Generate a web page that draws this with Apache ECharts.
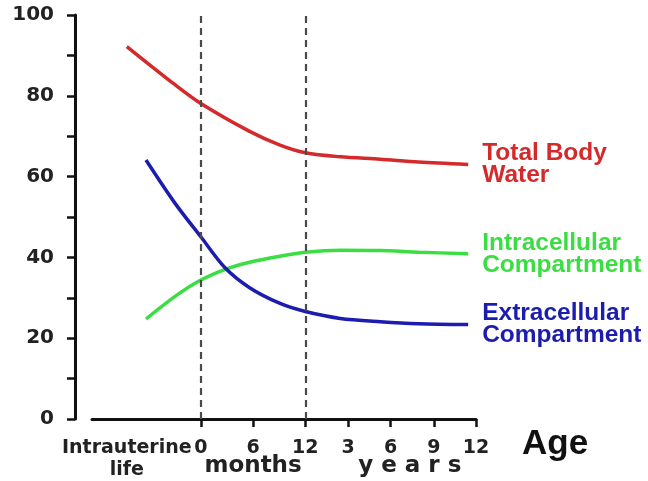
<html>
<head>
    <meta http-equiv="Content-Type" content="text/html; charset=utf-8" />
    <script type="text/javascript" src="https://cdn.jsdelivr.net/npm/echarts@6.0.0/dist/echarts.min.js"></script>
    <style>
        body { margin: 0; background: #fff; }
    </style>
</head>
<body>
<div id="main" style="width: 648px;height:481px;"></div>
<script type="text/javascript">
    // x: 0..12 = months, after 12 the years (3,6,9,12) squeezed in
    var tickPos = [0, 6, 12, 16.9, 21.8, 26.75, 31.6];
    var tickText = ['0', '6', '12', '3', '6', '9', '12'];
    var uterPos = -8.5;
    var uterText = 'Intrauterine\nlife';
    var unitPos = [6, 24];
    var unitText = ['months', 'y e a r s'];
    var dashPos = [0, 12];

    var redX = [-8.5, -3, 0, 5.6, 9.1, 12, 16, 20.6, 25, 30.7];
    var redY = [92.2, 82.8, 78.1, 71.2, 67.8, 65.9, 64.9, 64.3, 63.6, 63.0];
    var icX = [-6.3, -3, 0, 2.75, 5.6, 9.1, 12, 16, 20.6, 25, 30.7];
    var blueY = [64.1, 53.5, 45.1, 37.5, 32.5, 28.6, 26.6, 24.9, 24.1, 23.6, 23.4];
    var greenY = [24.75, 30.3, 34.4, 37, 38.8, 40.3, 41.3, 41.8, 41.7, 41.3, 40.9];

    var names = ['Total Body\nWater', 'Intracellular\nCompartment', 'Extracellular\nCompartment'];
    var colors = ['#d42a2c', '#3ade42', '#1c1cae'];

    function pairs(xs, ys) {
        var out = [];
        for (var i = 0; i < xs.length; i++) out.push([xs[i], ys[i]]);
        return out;
    }

    function line(name, data, color, withMark) {
        var s = {
            name: name,
            type: 'line',
            data: data,
            smooth: 0.3,
            symbol: 'none',
            lineStyle: { color: color, width: 3.5 },
            endLabel: {
                show: true,
                formatter: name,
                distance: 14,
                color: color,
                fontFamily: 'Liberation Sans',
                fontWeight: 'bold',
                fontSize: 24.5,
                lineHeight: 22
            },
            z: 3
        };
        if (withMark) {
            s.markLine = {
                silent: true,
                symbol: 'none',
                label: { show: false },
                lineStyle: { color: '#4a4a4a', width: 2.2, type: [7, 5] },
                data: dashPos.map(function (v) { return { xAxis: v }; })
            };
        }
        return s;
    }

    var myChart = echarts.init(document.getElementById('main'));

    var option = {
        animation: false,
        grid: { left: 92, right: 172, top: 15, bottom: 62, outerBoundsMode: 'none' },
        xAxis: [{
            type: 'value',
            min: -12.5,
            max: 31.6,
            splitLine: { show: false },
            axisLine: { lineStyle: { color: '#111', width: 3 } },
            axisTick: { customValues: tickPos, length: 8, lineStyle: { color: '#111', width: 2.5 } },
            axisLabel: {
                customValues: [uterPos].concat(tickPos),
                formatter: function (v) {
                    if (v === uterPos) return uterText;
                    return tickText[tickPos.indexOf(v)];
                },
                margin: 18,
                color: '#222',
                fontFamily: 'DejaVu Sans',
                fontWeight: 'bold',
                fontSize: 19,
                lineHeight: 22
            },
            name: 'Age',
            nameLocation: 'end',
            nameGap: 46,
            nameTextStyle: {
                color: '#111',
                fontFamily: 'Liberation Sans',
                fontWeight: 'bold',
                fontSize: 35,
                verticalAlign: 'top',
                padding: [8, 0, 0, 0]
            }
        }, {
            type: 'value',
            position: 'bottom',
            min: -12.5,
            max: 31.6,
            splitLine: { show: false },
            axisLine: { show: false },
            axisTick: { show: false },
            axisLabel: {
                customValues: unitPos,
                formatter: function (v) { return unitText[unitPos.indexOf(v)]; },
                margin: 36,
                color: '#222',
                fontFamily: 'DejaVu Sans',
                fontWeight: 'bold',
                fontSize: 23
            }
        }],
        yAxis: {
            type: 'value',
            min: 0,
            max: 100,
            interval: 10,
            offset: 17,
            splitLine: { show: false },
            axisLine: { show: true, onZero: false, lineStyle: { color: '#111', width: 3 } },
            axisTick: { show: true, length: 8, lineStyle: { color: '#111', width: 2.5 } },
            axisLabel: {
                formatter: function (v) { return v % 20 === 0 ? v : ''; },
                margin: 21,
                color: '#222',
                fontFamily: 'DejaVu Sans',
                fontWeight: 'bold',
                fontSize: 20
            }
        },
        series: [
            line(names[0], pairs(redX, redY), colors[0], true),
            line(names[1], pairs(icX, greenY), colors[1], false),
            line(names[2], pairs(icX, blueY), colors[2], false)
        ]
    };

    myChart.setOption(option);
</script>
</body>
</html>
